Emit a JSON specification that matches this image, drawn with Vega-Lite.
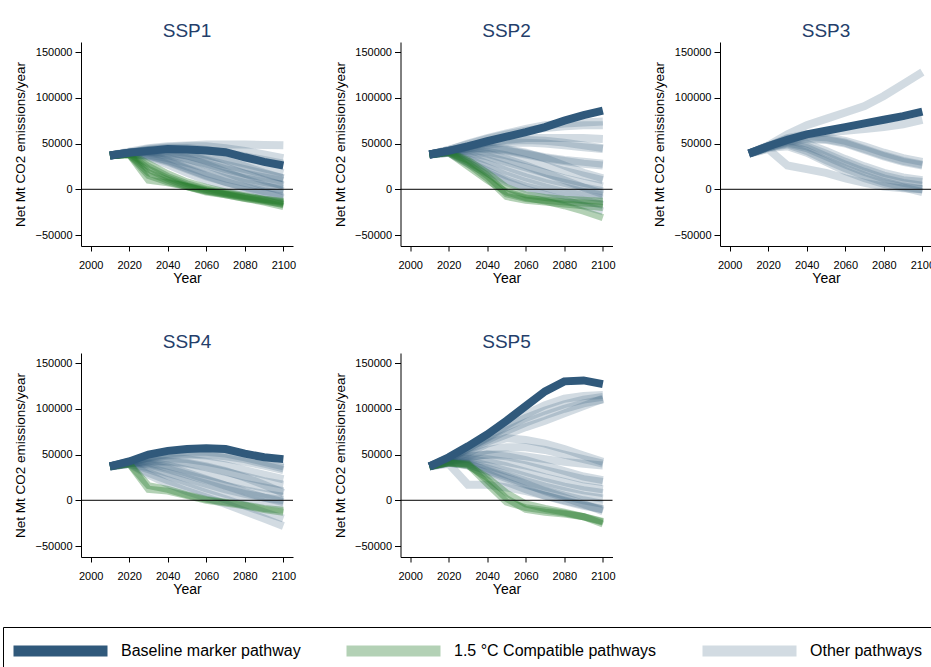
{
  "$schema": "https://vega.github.io/schema/vega-lite/v6.json",
  "padding": {"left": 2, "top": 22, "right": 0, "bottom": 0},
  "background": "white",
  "datasets": {
    "paths": [
      {"id":"1o1","ssp":"SSP1","type":"Other"},{"id":"1o2","ssp":"SSP1","type":"Other"},{"id":"1o3","ssp":"SSP1","type":"Other"},{"id":"1o4","ssp":"SSP1","type":"Other"},{"id":"1o5","ssp":"SSP1","type":"Other"},{"id":"1o6","ssp":"SSP1","type":"Other"},{"id":"1o7","ssp":"SSP1","type":"Other"},{"id":"1o8","ssp":"SSP1","type":"Other"},{"id":"1o9","ssp":"SSP1","type":"Other"},{"id":"1o10","ssp":"SSP1","type":"Other"},{"id":"1o11","ssp":"SSP1","type":"Other"},{"id":"1o12","ssp":"SSP1","type":"Other"},{"id":"1o13","ssp":"SSP1","type":"Other"},{"id":"1o14","ssp":"SSP1","type":"Other"},
      {"id":"1g1","ssp":"SSP1","type":"Compatible"},{"id":"1g2","ssp":"SSP1","type":"Compatible"},{"id":"1g3","ssp":"SSP1","type":"Compatible"},{"id":"1g4","ssp":"SSP1","type":"Compatible"},{"id":"1g5","ssp":"SSP1","type":"Compatible"},{"id":"1g6","ssp":"SSP1","type":"Compatible"},
      {"id":"1b","ssp":"SSP1","type":"Baseline"},
      {"id":"2o1","ssp":"SSP2","type":"Other"},{"id":"2o2","ssp":"SSP2","type":"Other"},{"id":"2o3","ssp":"SSP2","type":"Other"},{"id":"2o4","ssp":"SSP2","type":"Other"},{"id":"2o5","ssp":"SSP2","type":"Other"},{"id":"2o6","ssp":"SSP2","type":"Other"},{"id":"2o7","ssp":"SSP2","type":"Other"},{"id":"2o8","ssp":"SSP2","type":"Other"},{"id":"2o9","ssp":"SSP2","type":"Other"},{"id":"2o10","ssp":"SSP2","type":"Other"},{"id":"2o11","ssp":"SSP2","type":"Other"},{"id":"2o12","ssp":"SSP2","type":"Other"},{"id":"2o13","ssp":"SSP2","type":"Other"},{"id":"2o14","ssp":"SSP2","type":"Other"},{"id":"2o15","ssp":"SSP2","type":"Other"},{"id":"2o16","ssp":"SSP2","type":"Other"},
      {"id":"2g1","ssp":"SSP2","type":"Compatible"},{"id":"2g2","ssp":"SSP2","type":"Compatible"},{"id":"2g3","ssp":"SSP2","type":"Compatible"},{"id":"2g4","ssp":"SSP2","type":"Compatible"},
      {"id":"2b","ssp":"SSP2","type":"Baseline"},
      {"id":"3o1","ssp":"SSP3","type":"Other"},{"id":"3o2","ssp":"SSP3","type":"Other"},{"id":"3o3","ssp":"SSP3","type":"Other"},{"id":"3o4","ssp":"SSP3","type":"Other"},{"id":"3o5","ssp":"SSP3","type":"Other"},{"id":"3o6","ssp":"SSP3","type":"Other"},{"id":"3o7","ssp":"SSP3","type":"Other"},{"id":"3o8","ssp":"SSP3","type":"Other"},{"id":"3o9","ssp":"SSP3","type":"Other"},{"id":"3o10","ssp":"SSP3","type":"Other"},{"id":"3o11","ssp":"SSP3","type":"Other"},
      {"id":"3b","ssp":"SSP3","type":"Baseline"},
      {"id":"4o1","ssp":"SSP4","type":"Other"},{"id":"4o2","ssp":"SSP4","type":"Other"},{"id":"4o3","ssp":"SSP4","type":"Other"},{"id":"4o4","ssp":"SSP4","type":"Other"},{"id":"4o5","ssp":"SSP4","type":"Other"},{"id":"4o6","ssp":"SSP4","type":"Other"},{"id":"4o7","ssp":"SSP4","type":"Other"},{"id":"4o8","ssp":"SSP4","type":"Other"},{"id":"4o9","ssp":"SSP4","type":"Other"},{"id":"4o10","ssp":"SSP4","type":"Other"},{"id":"4o11","ssp":"SSP4","type":"Other"},{"id":"4o12","ssp":"SSP4","type":"Other"},{"id":"4o13","ssp":"SSP4","type":"Other"},
      {"id":"4g1","ssp":"SSP4","type":"Compatible"},{"id":"4g2","ssp":"SSP4","type":"Compatible"},
      {"id":"4b","ssp":"SSP4","type":"Baseline"},
      {"id":"5o1","ssp":"SSP5","type":"Other"},{"id":"5o2","ssp":"SSP5","type":"Other"},{"id":"5o3","ssp":"SSP5","type":"Other"},{"id":"5o4","ssp":"SSP5","type":"Other"},{"id":"5o5","ssp":"SSP5","type":"Other"},{"id":"5o6","ssp":"SSP5","type":"Other"},{"id":"5o7","ssp":"SSP5","type":"Other"},{"id":"5o8","ssp":"SSP5","type":"Other"},{"id":"5o9","ssp":"SSP5","type":"Other"},{"id":"5o10","ssp":"SSP5","type":"Other"},{"id":"5o11","ssp":"SSP5","type":"Other"},{"id":"5o12","ssp":"SSP5","type":"Other"},{"id":"5o13","ssp":"SSP5","type":"Other"},{"id":"5o14","ssp":"SSP5","type":"Other"},{"id":"5o15","ssp":"SSP5","type":"Other"},{"id":"5o16","ssp":"SSP5","type":"Other"},
      {"id":"5g1","ssp":"SSP5","type":"Compatible"},{"id":"5g2","ssp":"SSP5","type":"Compatible"},{"id":"5g3","ssp":"SSP5","type":"Compatible"},
      {"id":"5b","ssp":"SSP5","type":"Baseline"}
    ],
    "points": [
      {"id":"1o1","year":2010,"co2":37000},{"id":"1o1","year":2020,"co2":41000},{"id":"1o1","year":2030,"co2":45000},{"id":"1o1","year":2040,"co2":47000},{"id":"1o1","year":2050,"co2":48000},{"id":"1o1","year":2060,"co2":49000},{"id":"1o1","year":2070,"co2":49000},{"id":"1o1","year":2080,"co2":49000},{"id":"1o1","year":2090,"co2":48500},{"id":"1o1","year":2100,"co2":48000},
      {"id":"1o2","year":2010,"co2":37000},{"id":"1o2","year":2020,"co2":40000},{"id":"1o2","year":2030,"co2":44000},{"id":"1o2","year":2040,"co2":46000},{"id":"1o2","year":2050,"co2":47000},{"id":"1o2","year":2060,"co2":47000},{"id":"1o2","year":2070,"co2":45000},{"id":"1o2","year":2080,"co2":42000},{"id":"1o2","year":2090,"co2":38000},{"id":"1o2","year":2100,"co2":34000},
      {"id":"1o3","year":2010,"co2":37000},{"id":"1o3","year":2020,"co2":40000},{"id":"1o3","year":2030,"co2":43000},{"id":"1o3","year":2040,"co2":45000},{"id":"1o3","year":2050,"co2":45000},{"id":"1o3","year":2060,"co2":43000},{"id":"1o3","year":2070,"co2":40000},{"id":"1o3","year":2080,"co2":36000},{"id":"1o3","year":2090,"co2":32000},{"id":"1o3","year":2100,"co2":28000},
      {"id":"1o4","year":2010,"co2":37000},{"id":"1o4","year":2020,"co2":40000},{"id":"1o4","year":2030,"co2":42000},{"id":"1o4","year":2040,"co2":42000},{"id":"1o4","year":2050,"co2":40000},{"id":"1o4","year":2060,"co2":37000},{"id":"1o4","year":2070,"co2":33000},{"id":"1o4","year":2080,"co2":28000},{"id":"1o4","year":2090,"co2":23000},{"id":"1o4","year":2100,"co2":18000},
      {"id":"1o5","year":2010,"co2":37000},{"id":"1o5","year":2020,"co2":40000},{"id":"1o5","year":2030,"co2":41000},{"id":"1o5","year":2040,"co2":40000},{"id":"1o5","year":2050,"co2":37000},{"id":"1o5","year":2060,"co2":32000},{"id":"1o5","year":2070,"co2":27000},{"id":"1o5","year":2080,"co2":22000},{"id":"1o5","year":2090,"co2":17000},{"id":"1o5","year":2100,"co2":12000},
      {"id":"1o6","year":2010,"co2":37000},{"id":"1o6","year":2020,"co2":40000},{"id":"1o6","year":2030,"co2":40000},{"id":"1o6","year":2040,"co2":37000},{"id":"1o6","year":2050,"co2":33000},{"id":"1o6","year":2060,"co2":28000},{"id":"1o6","year":2070,"co2":22000},{"id":"1o6","year":2080,"co2":17000},{"id":"1o6","year":2090,"co2":13000},{"id":"1o6","year":2100,"co2":9000},
      {"id":"1o7","year":2010,"co2":37000},{"id":"1o7","year":2020,"co2":39000},{"id":"1o7","year":2030,"co2":38000},{"id":"1o7","year":2040,"co2":34000},{"id":"1o7","year":2050,"co2":29000},{"id":"1o7","year":2060,"co2":23000},{"id":"1o7","year":2070,"co2":17000},{"id":"1o7","year":2080,"co2":12000},{"id":"1o7","year":2090,"co2":8000},{"id":"1o7","year":2100,"co2":5000},
      {"id":"1o8","year":2010,"co2":37000},{"id":"1o8","year":2020,"co2":39000},{"id":"1o8","year":2030,"co2":37000},{"id":"1o8","year":2040,"co2":32000},{"id":"1o8","year":2050,"co2":25000},{"id":"1o8","year":2060,"co2":18000},{"id":"1o8","year":2070,"co2":12000},{"id":"1o8","year":2080,"co2":7000},{"id":"1o8","year":2090,"co2":3000},{"id":"1o8","year":2100,"co2":0},
      {"id":"1o9","year":2010,"co2":37000},{"id":"1o9","year":2020,"co2":39000},{"id":"1o9","year":2030,"co2":36000},{"id":"1o9","year":2040,"co2":30000},{"id":"1o9","year":2050,"co2":22000},{"id":"1o9","year":2060,"co2":14000},{"id":"1o9","year":2070,"co2":8000},{"id":"1o9","year":2080,"co2":3000},{"id":"1o9","year":2090,"co2":-2000},{"id":"1o9","year":2100,"co2":-5000},
      {"id":"1o10","year":2010,"co2":37000},{"id":"1o10","year":2020,"co2":39000},{"id":"1o10","year":2030,"co2":35000},{"id":"1o10","year":2040,"co2":27000},{"id":"1o10","year":2050,"co2":18000},{"id":"1o10","year":2060,"co2":10000},{"id":"1o10","year":2070,"co2":4000},{"id":"1o10","year":2080,"co2":-1000},{"id":"1o10","year":2090,"co2":-5000},{"id":"1o10","year":2100,"co2":-8000},
      {"id":"1o11","year":2010,"co2":37000},{"id":"1o11","year":2020,"co2":40000},{"id":"1o11","year":2030,"co2":43000},{"id":"1o11","year":2040,"co2":44000},{"id":"1o11","year":2050,"co2":42000},{"id":"1o11","year":2060,"co2":38000},{"id":"1o11","year":2070,"co2":32000},{"id":"1o11","year":2080,"co2":25000},{"id":"1o11","year":2090,"co2":18000},{"id":"1o11","year":2100,"co2":12000},
      {"id":"1o12","year":2010,"co2":37000},{"id":"1o12","year":2020,"co2":40000},{"id":"1o12","year":2030,"co2":42000},{"id":"1o12","year":2040,"co2":41000},{"id":"1o12","year":2050,"co2":37000},{"id":"1o12","year":2060,"co2":31000},{"id":"1o12","year":2070,"co2":24000},{"id":"1o12","year":2080,"co2":17000},{"id":"1o12","year":2090,"co2":10000},{"id":"1o12","year":2100,"co2":4000},
      {"id":"1o13","year":2010,"co2":37000},{"id":"1o13","year":2020,"co2":39000},{"id":"1o13","year":2030,"co2":37000},{"id":"1o13","year":2040,"co2":31000},{"id":"1o13","year":2050,"co2":23000},{"id":"1o13","year":2060,"co2":15000},{"id":"1o13","year":2070,"co2":8000},{"id":"1o13","year":2080,"co2":2000},{"id":"1o13","year":2090,"co2":-4000},{"id":"1o13","year":2100,"co2":-10000},
      {"id":"1o14","year":2010,"co2":37000},{"id":"1o14","year":2020,"co2":40000},{"id":"1o14","year":2030,"co2":41000},{"id":"1o14","year":2040,"co2":39000},{"id":"1o14","year":2050,"co2":34000},{"id":"1o14","year":2060,"co2":27000},{"id":"1o14","year":2070,"co2":19000},{"id":"1o14","year":2080,"co2":11000},{"id":"1o14","year":2090,"co2":4000},{"id":"1o14","year":2100,"co2":-2000},
      {"id":"1g1","year":2010,"co2":37000},{"id":"1g1","year":2020,"co2":38000},{"id":"1g1","year":2030,"co2":15000},{"id":"1g1","year":2040,"co2":8000},{"id":"1g1","year":2050,"co2":3000},{"id":"1g1","year":2060,"co2":-3000},{"id":"1g1","year":2070,"co2":-6000},{"id":"1g1","year":2080,"co2":-10000},{"id":"1g1","year":2090,"co2":-13000},{"id":"1g1","year":2100,"co2":-16000},
      {"id":"1g2","year":2010,"co2":37000},{"id":"1g2","year":2020,"co2":38000},{"id":"1g2","year":2030,"co2":22000},{"id":"1g2","year":2040,"co2":12000},{"id":"1g2","year":2050,"co2":4000},{"id":"1g2","year":2060,"co2":-1000},{"id":"1g2","year":2070,"co2":-5000},{"id":"1g2","year":2080,"co2":-9000},{"id":"1g2","year":2090,"co2":-12000},{"id":"1g2","year":2100,"co2":-15000},
      {"id":"1g3","year":2010,"co2":37000},{"id":"1g3","year":2020,"co2":39000},{"id":"1g3","year":2030,"co2":25000},{"id":"1g3","year":2040,"co2":14000},{"id":"1g3","year":2050,"co2":6000},{"id":"1g3","year":2060,"co2":0},{"id":"1g3","year":2070,"co2":-4000},{"id":"1g3","year":2080,"co2":-8000},{"id":"1g3","year":2090,"co2":-12000},{"id":"1g3","year":2100,"co2":-17000},
      {"id":"1g4","year":2010,"co2":37000},{"id":"1g4","year":2020,"co2":38000},{"id":"1g4","year":2030,"co2":18000},{"id":"1g4","year":2040,"co2":10000},{"id":"1g4","year":2050,"co2":3000},{"id":"1g4","year":2060,"co2":-2000},{"id":"1g4","year":2070,"co2":-6000},{"id":"1g4","year":2080,"co2":-10000},{"id":"1g4","year":2090,"co2":-14000},{"id":"1g4","year":2100,"co2":-19000},
      {"id":"1g5","year":2010,"co2":37000},{"id":"1g5","year":2020,"co2":39000},{"id":"1g5","year":2030,"co2":28000},{"id":"1g5","year":2040,"co2":17000},{"id":"1g5","year":2050,"co2":8000},{"id":"1g5","year":2060,"co2":2000},{"id":"1g5","year":2070,"co2":-3000},{"id":"1g5","year":2080,"co2":-7000},{"id":"1g5","year":2090,"co2":-11000},{"id":"1g5","year":2100,"co2":-14000},
      {"id":"1g6","year":2010,"co2":37000},{"id":"1g6","year":2020,"co2":38000},{"id":"1g6","year":2030,"co2":10000},{"id":"1g6","year":2040,"co2":7000},{"id":"1g6","year":2050,"co2":3000},{"id":"1g6","year":2060,"co2":-2000},{"id":"1g6","year":2070,"co2":-5000},{"id":"1g6","year":2080,"co2":-8000},{"id":"1g6","year":2090,"co2":-11000},{"id":"1g6","year":2100,"co2":-13000},
      {"id":"1b","year":2010,"co2":37000},{"id":"1b","year":2020,"co2":40000},{"id":"1b","year":2030,"co2":42000},{"id":"1b","year":2040,"co2":44000},{"id":"1b","year":2050,"co2":43500},{"id":"1b","year":2060,"co2":42500},{"id":"1b","year":2070,"co2":40500},{"id":"1b","year":2080,"co2":35000},{"id":"1b","year":2090,"co2":30000},{"id":"1b","year":2100,"co2":26000},
      {"id":"2o1","year":2010,"co2":38000},{"id":"2o1","year":2020,"co2":43000},{"id":"2o1","year":2030,"co2":50000},{"id":"2o1","year":2040,"co2":56000},{"id":"2o1","year":2050,"co2":61000},{"id":"2o1","year":2060,"co2":66000},{"id":"2o1","year":2070,"co2":70000},{"id":"2o1","year":2080,"co2":72000},{"id":"2o1","year":2090,"co2":73000},{"id":"2o1","year":2100,"co2":74000},
      {"id":"2o2","year":2010,"co2":38000},{"id":"2o2","year":2020,"co2":43000},{"id":"2o2","year":2030,"co2":49000},{"id":"2o2","year":2040,"co2":55000},{"id":"2o2","year":2050,"co2":60000},{"id":"2o2","year":2060,"co2":64000},{"id":"2o2","year":2070,"co2":67000},{"id":"2o2","year":2080,"co2":69000},{"id":"2o2","year":2090,"co2":70000},{"id":"2o2","year":2100,"co2":70000},
      {"id":"2o3","year":2010,"co2":38000},{"id":"2o3","year":2020,"co2":42000},{"id":"2o3","year":2030,"co2":47000},{"id":"2o3","year":2040,"co2":51000},{"id":"2o3","year":2050,"co2":54000},{"id":"2o3","year":2060,"co2":56000},{"id":"2o3","year":2070,"co2":56000},{"id":"2o3","year":2080,"co2":56000},{"id":"2o3","year":2090,"co2":56000},{"id":"2o3","year":2100,"co2":55000},
      {"id":"2o4","year":2010,"co2":38000},{"id":"2o4","year":2020,"co2":42000},{"id":"2o4","year":2030,"co2":46000},{"id":"2o4","year":2040,"co2":49000},{"id":"2o4","year":2050,"co2":51000},{"id":"2o4","year":2060,"co2":51000},{"id":"2o4","year":2070,"co2":50000},{"id":"2o4","year":2080,"co2":48000},{"id":"2o4","year":2090,"co2":46000},{"id":"2o4","year":2100,"co2":44000},
      {"id":"2o5","year":2010,"co2":38000},{"id":"2o5","year":2020,"co2":42000},{"id":"2o5","year":2030,"co2":44000},{"id":"2o5","year":2040,"co2":44000},{"id":"2o5","year":2050,"co2":42000},{"id":"2o5","year":2060,"co2":38000},{"id":"2o5","year":2070,"co2":34000},{"id":"2o5","year":2080,"co2":31000},{"id":"2o5","year":2090,"co2":28000},{"id":"2o5","year":2100,"co2":26000},
      {"id":"2o6","year":2010,"co2":38000},{"id":"2o6","year":2020,"co2":41000},{"id":"2o6","year":2030,"co2":43000},{"id":"2o6","year":2040,"co2":41000},{"id":"2o6","year":2050,"co2":37000},{"id":"2o6","year":2060,"co2":32000},{"id":"2o6","year":2070,"co2":26000},{"id":"2o6","year":2080,"co2":20000},{"id":"2o6","year":2090,"co2":15000},{"id":"2o6","year":2100,"co2":10000},
      {"id":"2o7","year":2010,"co2":38000},{"id":"2o7","year":2020,"co2":41000},{"id":"2o7","year":2030,"co2":40000},{"id":"2o7","year":2040,"co2":36000},{"id":"2o7","year":2050,"co2":30000},{"id":"2o7","year":2060,"co2":24000},{"id":"2o7","year":2070,"co2":18000},{"id":"2o7","year":2080,"co2":12000},{"id":"2o7","year":2090,"co2":7000},{"id":"2o7","year":2100,"co2":3000},
      {"id":"2o8","year":2010,"co2":38000},{"id":"2o8","year":2020,"co2":41000},{"id":"2o8","year":2030,"co2":38000},{"id":"2o8","year":2040,"co2":32000},{"id":"2o8","year":2050,"co2":25000},{"id":"2o8","year":2060,"co2":18000},{"id":"2o8","year":2070,"co2":12000},{"id":"2o8","year":2080,"co2":7000},{"id":"2o8","year":2090,"co2":2000},{"id":"2o8","year":2100,"co2":-2000},
      {"id":"2o9","year":2010,"co2":38000},{"id":"2o9","year":2020,"co2":41000},{"id":"2o9","year":2030,"co2":36000},{"id":"2o9","year":2040,"co2":28000},{"id":"2o9","year":2050,"co2":20000},{"id":"2o9","year":2060,"co2":13000},{"id":"2o9","year":2070,"co2":7000},{"id":"2o9","year":2080,"co2":2000},{"id":"2o9","year":2090,"co2":-3000},{"id":"2o9","year":2100,"co2":-7000},
      {"id":"2o10","year":2010,"co2":38000},{"id":"2o10","year":2020,"co2":40000},{"id":"2o10","year":2030,"co2":33000},{"id":"2o10","year":2040,"co2":24000},{"id":"2o10","year":2050,"co2":15000},{"id":"2o10","year":2060,"co2":8000},{"id":"2o10","year":2070,"co2":2000},{"id":"2o10","year":2080,"co2":-3000},{"id":"2o10","year":2090,"co2":-7000},{"id":"2o10","year":2100,"co2":-10000},
      {"id":"2o11","year":2010,"co2":38000},{"id":"2o11","year":2020,"co2":40000},{"id":"2o11","year":2030,"co2":30000},{"id":"2o11","year":2040,"co2":20000},{"id":"2o11","year":2050,"co2":10000},{"id":"2o11","year":2060,"co2":3000},{"id":"2o11","year":2070,"co2":-2000},{"id":"2o11","year":2080,"co2":-7000},{"id":"2o11","year":2090,"co2":-12000},{"id":"2o11","year":2100,"co2":-17000},
      {"id":"2o12","year":2010,"co2":38000},{"id":"2o12","year":2020,"co2":42000},{"id":"2o12","year":2030,"co2":45000},{"id":"2o12","year":2040,"co2":46000},{"id":"2o12","year":2050,"co2":44000},{"id":"2o12","year":2060,"co2":40000},{"id":"2o12","year":2070,"co2":34000},{"id":"2o12","year":2080,"co2":26000},{"id":"2o12","year":2090,"co2":18000},{"id":"2o12","year":2100,"co2":12000},
      {"id":"2o13","year":2010,"co2":38000},{"id":"2o13","year":2020,"co2":41000},{"id":"2o13","year":2030,"co2":42000},{"id":"2o13","year":2040,"co2":39000},{"id":"2o13","year":2050,"co2":33000},{"id":"2o13","year":2060,"co2":26000},{"id":"2o13","year":2070,"co2":18000},{"id":"2o13","year":2080,"co2":10000},{"id":"2o13","year":2090,"co2":2000},{"id":"2o13","year":2100,"co2":-5000},
      {"id":"2o14","year":2010,"co2":38000},{"id":"2o14","year":2020,"co2":40000},{"id":"2o14","year":2030,"co2":28000},{"id":"2o14","year":2040,"co2":18000},{"id":"2o14","year":2050,"co2":8000},{"id":"2o14","year":2060,"co2":0},{"id":"2o14","year":2070,"co2":-6000},{"id":"2o14","year":2080,"co2":-12000},{"id":"2o14","year":2090,"co2":-18000},{"id":"2o14","year":2100,"co2":-24000},
      {"id":"2o15","year":2010,"co2":38000},{"id":"2o15","year":2020,"co2":42000},{"id":"2o15","year":2030,"co2":47000},{"id":"2o15","year":2040,"co2":51000},{"id":"2o15","year":2050,"co2":53000},{"id":"2o15","year":2060,"co2":54000},{"id":"2o15","year":2070,"co2":53000},{"id":"2o15","year":2080,"co2":51000},{"id":"2o15","year":2090,"co2":48000},{"id":"2o15","year":2100,"co2":45000},
      {"id":"2o16","year":2010,"co2":38000},{"id":"2o16","year":2020,"co2":42000},{"id":"2o16","year":2030,"co2":45000},{"id":"2o16","year":2040,"co2":45000},{"id":"2o16","year":2050,"co2":43000},{"id":"2o16","year":2060,"co2":39000},{"id":"2o16","year":2070,"co2":35000},{"id":"2o16","year":2080,"co2":32000},{"id":"2o16","year":2090,"co2":30000},{"id":"2o16","year":2100,"co2":28000},
      {"id":"2g1","year":2010,"co2":38000},{"id":"2g1","year":2020,"co2":40000},{"id":"2g1","year":2030,"co2":28000},{"id":"2g1","year":2040,"co2":12000},{"id":"2g1","year":2050,"co2":-8000},{"id":"2g1","year":2060,"co2":-12000},{"id":"2g1","year":2070,"co2":-14000},{"id":"2g1","year":2080,"co2":-16000},{"id":"2g1","year":2090,"co2":-18000},{"id":"2g1","year":2100,"co2":-20000},
      {"id":"2g2","year":2010,"co2":38000},{"id":"2g2","year":2020,"co2":41000},{"id":"2g2","year":2030,"co2":30000},{"id":"2g2","year":2040,"co2":15000},{"id":"2g2","year":2050,"co2":-5000},{"id":"2g2","year":2060,"co2":-10000},{"id":"2g2","year":2070,"co2":-12000},{"id":"2g2","year":2080,"co2":-14000},{"id":"2g2","year":2090,"co2":-15000},{"id":"2g2","year":2100,"co2":-16000},
      {"id":"2g3","year":2010,"co2":38000},{"id":"2g3","year":2020,"co2":40000},{"id":"2g3","year":2030,"co2":25000},{"id":"2g3","year":2040,"co2":10000},{"id":"2g3","year":2050,"co2":-3000},{"id":"2g3","year":2060,"co2":-9000},{"id":"2g3","year":2070,"co2":-13000},{"id":"2g3","year":2080,"co2":-18000},{"id":"2g3","year":2090,"co2":-24000},{"id":"2g3","year":2100,"co2":-31000},
      {"id":"2g4","year":2010,"co2":38000},{"id":"2g4","year":2020,"co2":41000},{"id":"2g4","year":2030,"co2":32000},{"id":"2g4","year":2040,"co2":18000},{"id":"2g4","year":2050,"co2":2000},{"id":"2g4","year":2060,"co2":-6000},{"id":"2g4","year":2070,"co2":-9000},{"id":"2g4","year":2080,"co2":-11000},{"id":"2g4","year":2090,"co2":-12000},{"id":"2g4","year":2100,"co2":-13000},
      {"id":"2b","year":2010,"co2":38000},{"id":"2b","year":2020,"co2":42000},{"id":"2b","year":2030,"co2":47000},{"id":"2b","year":2040,"co2":52500},{"id":"2b","year":2050,"co2":57500},{"id":"2b","year":2060,"co2":62500},{"id":"2b","year":2070,"co2":68000},{"id":"2b","year":2080,"co2":75000},{"id":"2b","year":2090,"co2":81000},{"id":"2b","year":2100,"co2":86000},
      {"id":"3o1","year":2010,"co2":39000},{"id":"3o1","year":2020,"co2":48000},{"id":"3o1","year":2030,"co2":60000},{"id":"3o1","year":2040,"co2":70000},{"id":"3o1","year":2050,"co2":77000},{"id":"3o1","year":2060,"co2":84000},{"id":"3o1","year":2070,"co2":91000},{"id":"3o1","year":2080,"co2":102000},{"id":"3o1","year":2090,"co2":115000},{"id":"3o1","year":2100,"co2":128000},
      {"id":"3o2","year":2010,"co2":39000},{"id":"3o2","year":2020,"co2":47000},{"id":"3o2","year":2030,"co2":56000},{"id":"3o2","year":2040,"co2":60000},{"id":"3o2","year":2050,"co2":62000},{"id":"3o2","year":2060,"co2":64000},{"id":"3o2","year":2070,"co2":66000},{"id":"3o2","year":2080,"co2":68000},{"id":"3o2","year":2090,"co2":71000},{"id":"3o2","year":2100,"co2":76000},
      {"id":"3o3","year":2010,"co2":39000},{"id":"3o3","year":2020,"co2":47000},{"id":"3o3","year":2030,"co2":55000},{"id":"3o3","year":2040,"co2":58000},{"id":"3o3","year":2050,"co2":57000},{"id":"3o3","year":2060,"co2":53000},{"id":"3o3","year":2070,"co2":47000},{"id":"3o3","year":2080,"co2":40000},{"id":"3o3","year":2090,"co2":34000},{"id":"3o3","year":2100,"co2":30000},
      {"id":"3o4","year":2010,"co2":39000},{"id":"3o4","year":2020,"co2":47000},{"id":"3o4","year":2030,"co2":54000},{"id":"3o4","year":2040,"co2":56000},{"id":"3o4","year":2050,"co2":55000},{"id":"3o4","year":2060,"co2":51000},{"id":"3o4","year":2070,"co2":44000},{"id":"3o4","year":2080,"co2":37000},{"id":"3o4","year":2090,"co2":31000},{"id":"3o4","year":2100,"co2":27000},
      {"id":"3o5","year":2010,"co2":39000},{"id":"3o5","year":2020,"co2":46000},{"id":"3o5","year":2030,"co2":52000},{"id":"3o5","year":2040,"co2":55000},{"id":"3o5","year":2050,"co2":54000},{"id":"3o5","year":2060,"co2":50000},{"id":"3o5","year":2070,"co2":43000},{"id":"3o5","year":2080,"co2":36000},{"id":"3o5","year":2090,"co2":30000},{"id":"3o5","year":2100,"co2":26000},
      {"id":"3o6","year":2010,"co2":39000},{"id":"3o6","year":2020,"co2":46000},{"id":"3o6","year":2030,"co2":50000},{"id":"3o6","year":2040,"co2":45000},{"id":"3o6","year":2050,"co2":36000},{"id":"3o6","year":2060,"co2":27000},{"id":"3o6","year":2070,"co2":19000},{"id":"3o6","year":2080,"co2":12000},{"id":"3o6","year":2090,"co2":7000},{"id":"3o6","year":2100,"co2":4000},
      {"id":"3o7","year":2010,"co2":39000},{"id":"3o7","year":2020,"co2":46000},{"id":"3o7","year":2030,"co2":49000},{"id":"3o7","year":2040,"co2":42000},{"id":"3o7","year":2050,"co2":32000},{"id":"3o7","year":2060,"co2":23000},{"id":"3o7","year":2070,"co2":15000},{"id":"3o7","year":2080,"co2":8000},{"id":"3o7","year":2090,"co2":3000},{"id":"3o7","year":2100,"co2":0},
      {"id":"3o8","year":2010,"co2":39000},{"id":"3o8","year":2020,"co2":45000},{"id":"3o8","year":2030,"co2":47000},{"id":"3o8","year":2040,"co2":40000},{"id":"3o8","year":2050,"co2":30000},{"id":"3o8","year":2060,"co2":20000},{"id":"3o8","year":2070,"co2":12000},{"id":"3o8","year":2080,"co2":6000},{"id":"3o8","year":2090,"co2":2000},{"id":"3o8","year":2100,"co2":-3000},
      {"id":"3o9","year":2010,"co2":39000},{"id":"3o9","year":2020,"co2":44000},{"id":"3o9","year":2030,"co2":26000},{"id":"3o9","year":2040,"co2":22000},{"id":"3o9","year":2050,"co2":18000},{"id":"3o9","year":2060,"co2":12000},{"id":"3o9","year":2070,"co2":7000},{"id":"3o9","year":2080,"co2":3000},{"id":"3o9","year":2090,"co2":1000},{"id":"3o9","year":2100,"co2":0},
      {"id":"3o10","year":2010,"co2":39000},{"id":"3o10","year":2020,"co2":46000},{"id":"3o10","year":2030,"co2":51000},{"id":"3o10","year":2040,"co2":47000},{"id":"3o10","year":2050,"co2":39000},{"id":"3o10","year":2060,"co2":30000},{"id":"3o10","year":2070,"co2":22000},{"id":"3o10","year":2080,"co2":15000},{"id":"3o10","year":2090,"co2":10000},{"id":"3o10","year":2100,"co2":8000},
      {"id":"3o11","year":2010,"co2":39000},{"id":"3o11","year":2020,"co2":47000},{"id":"3o11","year":2030,"co2":53000},{"id":"3o11","year":2040,"co2":50000},{"id":"3o11","year":2050,"co2":42000},{"id":"3o11","year":2060,"co2":33000},{"id":"3o11","year":2070,"co2":25000},{"id":"3o11","year":2080,"co2":18000},{"id":"3o11","year":2090,"co2":13000},{"id":"3o11","year":2100,"co2":10000},
      {"id":"3b","year":2010,"co2":39000},{"id":"3b","year":2020,"co2":47000},{"id":"3b","year":2030,"co2":54000},{"id":"3b","year":2040,"co2":60000},{"id":"3b","year":2050,"co2":64000},{"id":"3b","year":2060,"co2":68000},{"id":"3b","year":2070,"co2":72000},{"id":"3b","year":2080,"co2":76000},{"id":"3b","year":2090,"co2":80000},{"id":"3b","year":2100,"co2":85000},
      {"id":"4o1","year":2010,"co2":37000},{"id":"4o1","year":2020,"co2":42000},{"id":"4o1","year":2030,"co2":47000},{"id":"4o1","year":2040,"co2":51000},{"id":"4o1","year":2050,"co2":53000},{"id":"4o1","year":2060,"co2":53000},{"id":"4o1","year":2070,"co2":51000},{"id":"4o1","year":2080,"co2":47000},{"id":"4o1","year":2090,"co2":42000},{"id":"4o1","year":2100,"co2":37000},
      {"id":"4o2","year":2010,"co2":37000},{"id":"4o2","year":2020,"co2":42000},{"id":"4o2","year":2030,"co2":46000},{"id":"4o2","year":2040,"co2":49000},{"id":"4o2","year":2050,"co2":50000},{"id":"4o2","year":2060,"co2":49000},{"id":"4o2","year":2070,"co2":46000},{"id":"4o2","year":2080,"co2":42000},{"id":"4o2","year":2090,"co2":38000},{"id":"4o2","year":2100,"co2":33000},
      {"id":"4o3","year":2010,"co2":37000},{"id":"4o3","year":2020,"co2":41000},{"id":"4o3","year":2030,"co2":44000},{"id":"4o3","year":2040,"co2":46000},{"id":"4o3","year":2050,"co2":45000},{"id":"4o3","year":2060,"co2":42000},{"id":"4o3","year":2070,"co2":38000},{"id":"4o3","year":2080,"co2":33000},{"id":"4o3","year":2090,"co2":28000},{"id":"4o3","year":2100,"co2":23000},
      {"id":"4o4","year":2010,"co2":37000},{"id":"4o4","year":2020,"co2":41000},{"id":"4o4","year":2030,"co2":42000},{"id":"4o4","year":2040,"co2":42000},{"id":"4o4","year":2050,"co2":40000},{"id":"4o4","year":2060,"co2":36000},{"id":"4o4","year":2070,"co2":31000},{"id":"4o4","year":2080,"co2":26000},{"id":"4o4","year":2090,"co2":21000},{"id":"4o4","year":2100,"co2":17000},
      {"id":"4o5","year":2010,"co2":37000},{"id":"4o5","year":2020,"co2":41000},{"id":"4o5","year":2030,"co2":41000},{"id":"4o5","year":2040,"co2":38000},{"id":"4o5","year":2050,"co2":33000},{"id":"4o5","year":2060,"co2":28000},{"id":"4o5","year":2070,"co2":23000},{"id":"4o5","year":2080,"co2":18000},{"id":"4o5","year":2090,"co2":14000},{"id":"4o5","year":2100,"co2":10000},
      {"id":"4o6","year":2010,"co2":37000},{"id":"4o6","year":2020,"co2":41000},{"id":"4o6","year":2030,"co2":39000},{"id":"4o6","year":2040,"co2":34000},{"id":"4o6","year":2050,"co2":28000},{"id":"4o6","year":2060,"co2":22000},{"id":"4o6","year":2070,"co2":16000},{"id":"4o6","year":2080,"co2":11000},{"id":"4o6","year":2090,"co2":7000},{"id":"4o6","year":2100,"co2":4000},
      {"id":"4o7","year":2010,"co2":37000},{"id":"4o7","year":2020,"co2":40000},{"id":"4o7","year":2030,"co2":36000},{"id":"4o7","year":2040,"co2":30000},{"id":"4o7","year":2050,"co2":24000},{"id":"4o7","year":2060,"co2":18000},{"id":"4o7","year":2070,"co2":12000},{"id":"4o7","year":2080,"co2":7000},{"id":"4o7","year":2090,"co2":3000},{"id":"4o7","year":2100,"co2":0},
      {"id":"4o8","year":2010,"co2":37000},{"id":"4o8","year":2020,"co2":40000},{"id":"4o8","year":2030,"co2":34000},{"id":"4o8","year":2040,"co2":27000},{"id":"4o8","year":2050,"co2":20000},{"id":"4o8","year":2060,"co2":13000},{"id":"4o8","year":2070,"co2":7000},{"id":"4o8","year":2080,"co2":2000},{"id":"4o8","year":2090,"co2":-2000},{"id":"4o8","year":2100,"co2":-5000},
      {"id":"4o9","year":2010,"co2":37000},{"id":"4o9","year":2020,"co2":40000},{"id":"4o9","year":2030,"co2":30000},{"id":"4o9","year":2040,"co2":22000},{"id":"4o9","year":2050,"co2":15000},{"id":"4o9","year":2060,"co2":8000},{"id":"4o9","year":2070,"co2":1000},{"id":"4o9","year":2080,"co2":-6000},{"id":"4o9","year":2090,"co2":-13000},{"id":"4o9","year":2100,"co2":-20000},
      {"id":"4o10","year":2010,"co2":37000},{"id":"4o10","year":2020,"co2":40000},{"id":"4o10","year":2030,"co2":28000},{"id":"4o10","year":2040,"co2":18000},{"id":"4o10","year":2050,"co2":10000},{"id":"4o10","year":2060,"co2":3000},{"id":"4o10","year":2070,"co2":-4000},{"id":"4o10","year":2080,"co2":-12000},{"id":"4o10","year":2090,"co2":-20000},{"id":"4o10","year":2100,"co2":-28000},
      {"id":"4o11","year":2010,"co2":37000},{"id":"4o11","year":2020,"co2":41000},{"id":"4o11","year":2030,"co2":43000},{"id":"4o11","year":2040,"co2":43000},{"id":"4o11","year":2050,"co2":41000},{"id":"4o11","year":2060,"co2":37000},{"id":"4o11","year":2070,"co2":32000},{"id":"4o11","year":2080,"co2":25000},{"id":"4o11","year":2090,"co2":17000},{"id":"4o11","year":2100,"co2":8000},
      {"id":"4o12","year":2010,"co2":37000},{"id":"4o12","year":2020,"co2":41000},{"id":"4o12","year":2030,"co2":40000},{"id":"4o12","year":2040,"co2":36000},{"id":"4o12","year":2050,"co2":30000},{"id":"4o12","year":2060,"co2":23000},{"id":"4o12","year":2070,"co2":16000},{"id":"4o12","year":2080,"co2":9000},{"id":"4o12","year":2090,"co2":3000},{"id":"4o12","year":2100,"co2":-2000},
      {"id":"4o13","year":2010,"co2":37000},{"id":"4o13","year":2020,"co2":42000},{"id":"4o13","year":2030,"co2":47000},{"id":"4o13","year":2040,"co2":50000},{"id":"4o13","year":2050,"co2":51000},{"id":"4o13","year":2060,"co2":50000},{"id":"4o13","year":2070,"co2":48000},{"id":"4o13","year":2080,"co2":45000},{"id":"4o13","year":2090,"co2":40000},{"id":"4o13","year":2100,"co2":35000},
      {"id":"4g1","year":2010,"co2":37000},{"id":"4g1","year":2020,"co2":40000},{"id":"4g1","year":2030,"co2":12000},{"id":"4g1","year":2040,"co2":10000},{"id":"4g1","year":2050,"co2":5000},{"id":"4g1","year":2060,"co2":0},{"id":"4g1","year":2070,"co2":-3000},{"id":"4g1","year":2080,"co2":-6000},{"id":"4g1","year":2090,"co2":-10000},{"id":"4g1","year":2100,"co2":-13000},
      {"id":"4g2","year":2010,"co2":37000},{"id":"4g2","year":2020,"co2":40000},{"id":"4g2","year":2030,"co2":16000},{"id":"4g2","year":2040,"co2":12000},{"id":"4g2","year":2050,"co2":6000},{"id":"4g2","year":2060,"co2":1000},{"id":"4g2","year":2070,"co2":-2000},{"id":"4g2","year":2080,"co2":-5000},{"id":"4g2","year":2090,"co2":-9000},{"id":"4g2","year":2100,"co2":-11000},
      {"id":"4b","year":2010,"co2":37000},{"id":"4b","year":2020,"co2":42500},{"id":"4b","year":2030,"co2":50000},{"id":"4b","year":2040,"co2":54000},{"id":"4b","year":2050,"co2":56000},{"id":"4b","year":2060,"co2":57000},{"id":"4b","year":2070,"co2":56000},{"id":"4b","year":2080,"co2":51000},{"id":"4b","year":2090,"co2":47000},{"id":"4b","year":2100,"co2":45000},
      {"id":"5o1","year":2010,"co2":37000},{"id":"5o1","year":2020,"co2":46000},{"id":"5o1","year":2030,"co2":57000},{"id":"5o1","year":2040,"co2":68000},{"id":"5o1","year":2050,"co2":80000},{"id":"5o1","year":2060,"co2":90000},{"id":"5o1","year":2070,"co2":98000},{"id":"5o1","year":2080,"co2":105000},{"id":"5o1","year":2090,"co2":110000},{"id":"5o1","year":2100,"co2":113000},
      {"id":"5o2","year":2010,"co2":37000},{"id":"5o2","year":2020,"co2":46000},{"id":"5o2","year":2030,"co2":56000},{"id":"5o2","year":2040,"co2":66000},{"id":"5o2","year":2050,"co2":76000},{"id":"5o2","year":2060,"co2":85000},{"id":"5o2","year":2070,"co2":93000},{"id":"5o2","year":2080,"co2":100000},{"id":"5o2","year":2090,"co2":106000},{"id":"5o2","year":2100,"co2":110000},
      {"id":"5o3","year":2010,"co2":37000},{"id":"5o3","year":2020,"co2":45000},{"id":"5o3","year":2030,"co2":55000},{"id":"5o3","year":2040,"co2":64000},{"id":"5o3","year":2050,"co2":72000},{"id":"5o3","year":2060,"co2":80000},{"id":"5o3","year":2070,"co2":87000},{"id":"5o3","year":2080,"co2":95000},{"id":"5o3","year":2090,"co2":103000},{"id":"5o3","year":2100,"co2":111000},
      {"id":"5o4","year":2010,"co2":37000},{"id":"5o4","year":2020,"co2":46000},{"id":"5o4","year":2030,"co2":57000},{"id":"5o4","year":2040,"co2":69000},{"id":"5o4","year":2050,"co2":82000},{"id":"5o4","year":2060,"co2":94000},{"id":"5o4","year":2070,"co2":104000},{"id":"5o4","year":2080,"co2":111000},{"id":"5o4","year":2090,"co2":114000},{"id":"5o4","year":2100,"co2":115000},
      {"id":"5o5","year":2010,"co2":37000},{"id":"5o5","year":2020,"co2":44000},{"id":"5o5","year":2030,"co2":52000},{"id":"5o5","year":2040,"co2":62000},{"id":"5o5","year":2050,"co2":68000},{"id":"5o5","year":2060,"co2":66000},{"id":"5o5","year":2070,"co2":62000},{"id":"5o5","year":2080,"co2":56000},{"id":"5o5","year":2090,"co2":49000},{"id":"5o5","year":2100,"co2":42000},
      {"id":"5o6","year":2010,"co2":37000},{"id":"5o6","year":2020,"co2":44000},{"id":"5o6","year":2030,"co2":49000},{"id":"5o6","year":2040,"co2":55000},{"id":"5o6","year":2050,"co2":58000},{"id":"5o6","year":2060,"co2":58000},{"id":"5o6","year":2070,"co2":55000},{"id":"5o6","year":2080,"co2":50000},{"id":"5o6","year":2090,"co2":45000},{"id":"5o6","year":2100,"co2":40000},
      {"id":"5o7","year":2010,"co2":37000},{"id":"5o7","year":2020,"co2":43000},{"id":"5o7","year":2030,"co2":47000},{"id":"5o7","year":2040,"co2":50000},{"id":"5o7","year":2050,"co2":50000},{"id":"5o7","year":2060,"co2":48000},{"id":"5o7","year":2070,"co2":45000},{"id":"5o7","year":2080,"co2":42000},{"id":"5o7","year":2090,"co2":40000},{"id":"5o7","year":2100,"co2":38000},
      {"id":"5o8","year":2010,"co2":37000},{"id":"5o8","year":2020,"co2":43000},{"id":"5o8","year":2030,"co2":46000},{"id":"5o8","year":2040,"co2":45000},{"id":"5o8","year":2050,"co2":42000},{"id":"5o8","year":2060,"co2":38000},{"id":"5o8","year":2070,"co2":33000},{"id":"5o8","year":2080,"co2":28000},{"id":"5o8","year":2090,"co2":23000},{"id":"5o8","year":2100,"co2":20000},
      {"id":"5o9","year":2010,"co2":37000},{"id":"5o9","year":2020,"co2":43000},{"id":"5o9","year":2030,"co2":45000},{"id":"5o9","year":2040,"co2":42000},{"id":"5o9","year":2050,"co2":37000},{"id":"5o9","year":2060,"co2":31000},{"id":"5o9","year":2070,"co2":25000},{"id":"5o9","year":2080,"co2":20000},{"id":"5o9","year":2090,"co2":15000},{"id":"5o9","year":2100,"co2":12000},
      {"id":"5o10","year":2010,"co2":37000},{"id":"5o10","year":2020,"co2":42000},{"id":"5o10","year":2030,"co2":43000},{"id":"5o10","year":2040,"co2":38000},{"id":"5o10","year":2050,"co2":32000},{"id":"5o10","year":2060,"co2":26000},{"id":"5o10","year":2070,"co2":20000},{"id":"5o10","year":2080,"co2":15000},{"id":"5o10","year":2090,"co2":11000},{"id":"5o10","year":2100,"co2":8000},
      {"id":"5o11","year":2010,"co2":37000},{"id":"5o11","year":2020,"co2":42000},{"id":"5o11","year":2030,"co2":41000},{"id":"5o11","year":2040,"co2":35000},{"id":"5o11","year":2050,"co2":28000},{"id":"5o11","year":2060,"co2":21000},{"id":"5o11","year":2070,"co2":15000},{"id":"5o11","year":2080,"co2":10000},{"id":"5o11","year":2090,"co2":5000},{"id":"5o11","year":2100,"co2":2000},
      {"id":"5o12","year":2010,"co2":37000},{"id":"5o12","year":2020,"co2":42000},{"id":"5o12","year":2030,"co2":40000},{"id":"5o12","year":2040,"co2":32000},{"id":"5o12","year":2050,"co2":24000},{"id":"5o12","year":2060,"co2":17000},{"id":"5o12","year":2070,"co2":11000},{"id":"5o12","year":2080,"co2":5000},{"id":"5o12","year":2090,"co2":0},{"id":"5o12","year":2100,"co2":-4000},
      {"id":"5o13","year":2010,"co2":37000},{"id":"5o13","year":2020,"co2":41000},{"id":"5o13","year":2030,"co2":38000},{"id":"5o13","year":2040,"co2":29000},{"id":"5o13","year":2050,"co2":20000},{"id":"5o13","year":2060,"co2":12000},{"id":"5o13","year":2070,"co2":5000},{"id":"5o13","year":2080,"co2":-1000},{"id":"5o13","year":2090,"co2":-6000},{"id":"5o13","year":2100,"co2":-10000},
      {"id":"5o14","year":2010,"co2":37000},{"id":"5o14","year":2020,"co2":40000},{"id":"5o14","year":2030,"co2":17000},{"id":"5o14","year":2040,"co2":17000},{"id":"5o14","year":2050,"co2":14000},{"id":"5o14","year":2060,"co2":10000},{"id":"5o14","year":2070,"co2":5000},{"id":"5o14","year":2080,"co2":0},{"id":"5o14","year":2090,"co2":-5000},{"id":"5o14","year":2100,"co2":-10000},
      {"id":"5o15","year":2010,"co2":37000},{"id":"5o15","year":2020,"co2":44000},{"id":"5o15","year":2030,"co2":48000},{"id":"5o15","year":2040,"co2":50000},{"id":"5o15","year":2050,"co2":48000},{"id":"5o15","year":2060,"co2":44000},{"id":"5o15","year":2070,"co2":38000},{"id":"5o15","year":2080,"co2":32000},{"id":"5o15","year":2090,"co2":26000},{"id":"5o15","year":2100,"co2":22000},
      {"id":"5o16","year":2010,"co2":37000},{"id":"5o16","year":2020,"co2":41000},{"id":"5o16","year":2030,"co2":39000},{"id":"5o16","year":2040,"co2":33000},{"id":"5o16","year":2050,"co2":26000},{"id":"5o16","year":2060,"co2":18000},{"id":"5o16","year":2070,"co2":10000},{"id":"5o16","year":2080,"co2":3000},{"id":"5o16","year":2090,"co2":-4000},{"id":"5o16","year":2100,"co2":-12000},
      {"id":"5g1","year":2010,"co2":37000},{"id":"5g1","year":2020,"co2":41000},{"id":"5g1","year":2030,"co2":40000},{"id":"5g1","year":2040,"co2":22000},{"id":"5g1","year":2050,"co2":2000},{"id":"5g1","year":2060,"co2":-10000},{"id":"5g1","year":2070,"co2":-13000},{"id":"5g1","year":2080,"co2":-15000},{"id":"5g1","year":2090,"co2":-18000},{"id":"5g1","year":2100,"co2":-24000},
      {"id":"5g2","year":2010,"co2":37000},{"id":"5g2","year":2020,"co2":41000},{"id":"5g2","year":2030,"co2":39000},{"id":"5g2","year":2040,"co2":18000},{"id":"5g2","year":2050,"co2":-2000},{"id":"5g2","year":2060,"co2":-8000},{"id":"5g2","year":2070,"co2":-11000},{"id":"5g2","year":2080,"co2":-14000},{"id":"5g2","year":2090,"co2":-18000},{"id":"5g2","year":2100,"co2":-26000},
      {"id":"5g3","year":2010,"co2":37000},{"id":"5g3","year":2020,"co2":41000},{"id":"5g3","year":2030,"co2":38000},{"id":"5g3","year":2040,"co2":25000},{"id":"5g3","year":2050,"co2":8000},{"id":"5g3","year":2060,"co2":-4000},{"id":"5g3","year":2070,"co2":-9000},{"id":"5g3","year":2080,"co2":-13000},{"id":"5g3","year":2090,"co2":-18000},{"id":"5g3","year":2100,"co2":-23000},
      {"id":"5b","year":2010,"co2":37000},{"id":"5b","year":2020,"co2":47000},{"id":"5b","year":2030,"co2":59000},{"id":"5b","year":2040,"co2":72000},{"id":"5b","year":2050,"co2":87000},{"id":"5b","year":2060,"co2":103000},{"id":"5b","year":2070,"co2":119000},{"id":"5b","year":2080,"co2":130000},{"id":"5b","year":2090,"co2":131000},{"id":"5b","year":2100,"co2":127000}
    ]
  },
  "data": {"name": "points"},
  "transform": [
    {"lookup": "id", "from": {"data": {"name": "paths"}, "key": "id", "fields": ["ssp", "type"]}}
  ],
  "facet": {
    "field": "ssp", "type": "nominal", "title": null,
    "header": {"labelFontSize": 19, "labelColor": "#243e6a", "labelFont": "Liberation Sans", "labelPadding": 1}
  },
  "columns": 3,
  "spacing": {"row": 48, "column": 32.5},
  "resolve": {"axis": {"x": "independent", "y": "independent"}},
  "spec": {
    "width": 212,
    "height": 204,
    "layer": [
      {
        "transform": [{"filter": {"field": "type", "equal": "Other"}}],
        "mark": {"type": "line", "strokeWidth": 8},
        "encoding": {
          "x": {"field": "year", "type": "quantitative", "scale": {"domain": [1995, 2105], "nice": false, "zero": false},
                "axis": {"title": "Year", "values": [2000, 2020, 2040, 2060, 2080, 2100], "format": "d", "labelFlush": false}},
          "y": {"field": "co2", "type": "quantitative", "scale": {"domain": [-62000, 161000], "nice": false, "zero": false},
                "axis": {"title": "Net Mt CO2 emissions/year", "values": [-50000, 0, 50000, 100000, 150000], "format": "d"}},
          "detail": {"field": "id", "type": "nominal"},
          "color": {"field": "type", "type": "nominal",
                    "scale": {"domain": ["Baseline", "Compatible", "Other"],
                              "range": ["#30597b", "rgba(38,124,44,0.35)", "rgba(48,89,123,0.22)"]},
                    "legend": {"title": null, "orient": "none", "legendX": -78, "legendY": 585, "direction": "horizontal", "columns": 3,
                               "labelExpr": "datum.label === 'Baseline' ? 'Baseline marker pathway' : datum.label === 'Compatible' ? '1.5 °C Compatible pathways' : 'Other pathways\u00a0\u00a0\u00a0\u00a0\u00a0'",
                               "symbolType": "stroke", "symbolSize": 8836, "symbolStrokeWidth": 11, "clipHeight": 28,
                               "labelFontSize": 16, "labelFont": "Liberation Sans", "labelColor": "black", "labelLimit": 0,
                               "labelOffset": 8, "symbolOffset": -5, "columnPadding": 45, "padding": 10,
                               "strokeColor": "black",
                               "encode": {"symbols": {"update": {"strokeWidth": {"value": 11}}}}}}
        }
      },
      {
        "transform": [{"filter": {"field": "type", "equal": "Compatible"}}],
        "mark": {"type": "line", "strokeWidth": 7},
        "encoding": {
          "x": {"field": "year", "type": "quantitative"},
          "y": {"field": "co2", "type": "quantitative"},
          "detail": {"field": "id", "type": "nominal"},
          "color": {"field": "type", "type": "nominal"}
        }
      },
      {
        "transform": [{"filter": {"and": [{"field": "type", "equal": "Baseline"}, {"field": "year", "equal": 2010}]}}],
        "mark": {"type": "rule", "color": "black", "strokeWidth": 1},
        "encoding": {"y": {"datum": 0}}
      },
      {
        "transform": [{"filter": {"field": "type", "equal": "Baseline"}}],
        "mark": {"type": "line", "strokeWidth": 8},
        "encoding": {
          "x": {"field": "year", "type": "quantitative"},
          "y": {"field": "co2", "type": "quantitative"},
          "detail": {"field": "id", "type": "nominal"},
          "color": {"field": "type", "type": "nominal"}
        }
      }
    ]
  },
  "config": {
    "view": {"stroke": null},
    "font": "Liberation Sans",
    "axis": {"grid": false, "domainColor": "#000", "tickColor": "#000", "labelColor": "#000", "titleColor": "#000",
             "labelFontSize": 11, "titleFontWeight": "normal", "labelFont": "Liberation Sans", "titleFont": "Liberation Sans"},
    "axisX": {"tickSize": 5, "labelPadding": 8, "titleFontSize": 14, "titlePadding": 1},
    "axisY": {"tickSize": 6, "labelPadding": 3, "titleFontSize": 13.5, "titlePadding": 7}
  }
}
